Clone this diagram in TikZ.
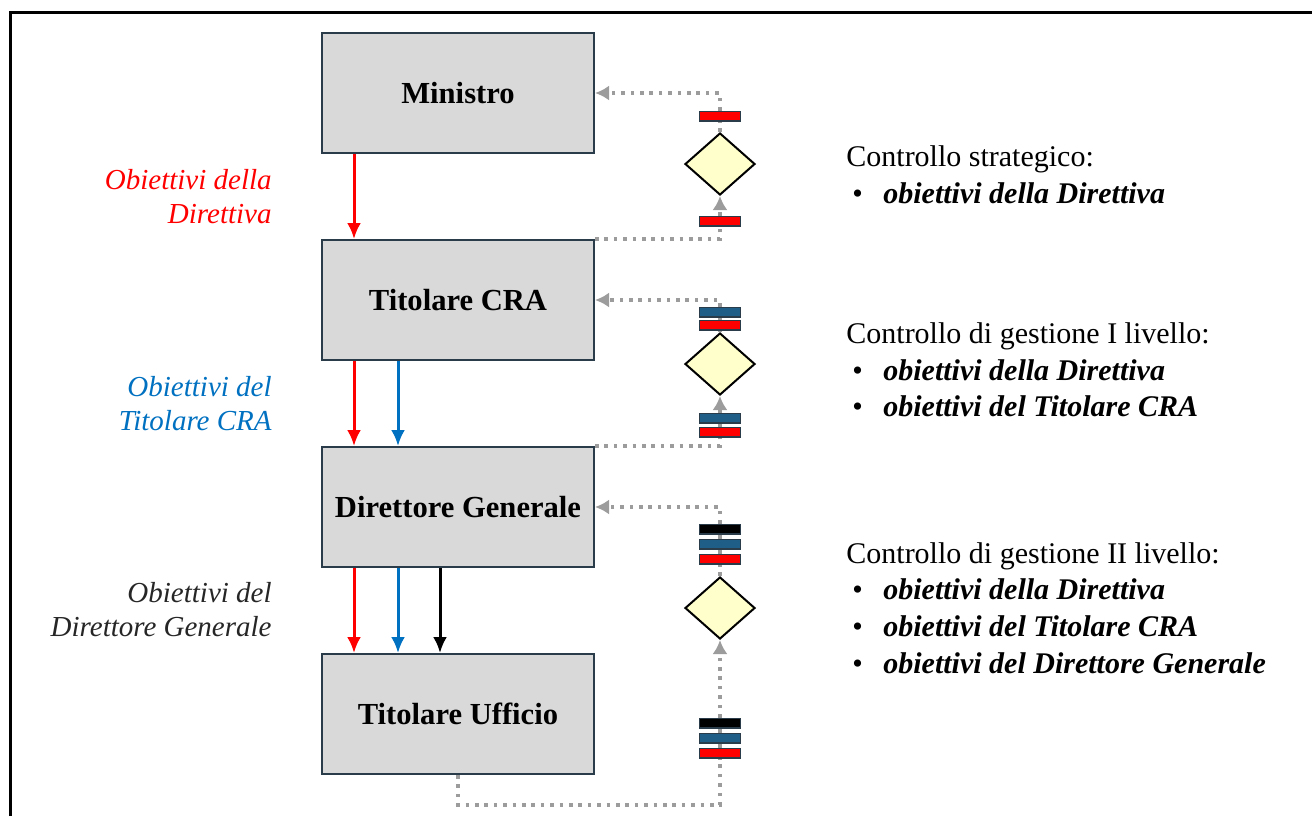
\documentclass[tikz,border=0pt]{standalone}
\usepackage{fontspec}
\setmainfont{Liberation Serif}
\usepackage{tikz}
\usetikzlibrary{arrows,arrows.meta}
\usetikzlibrary{shapes.geometric}
\usepackage{xcolor}
\tikzset{>={Latex[length=8pt,width=7pt]}}
\definecolor{boxgray}{HTML}{D9D9D9}
\definecolor{boxedge}{HTML}{2A3C4A}
\definecolor{objblue}{HTML}{0070C0}
\definecolor{barblue}{HTML}{1F5F87}
\definecolor{dotgray}{HTML}{9C9C9C}
\definecolor{rombo}{HTML}{FFFFCC}
\newcommand{\punto}[1]{\makebox[18.5pt][l]{\hspace{3pt}\textbullet}\textbf{\textit{#1}}}

\begin{document}
\begin{tikzpicture}[x=0.5pt, y=-0.5pt]
                \tikzstyle{every node}=[node distance=103.5pt]
                \tikzstyle{ruolo}=[rectangle, draw=boxedge, line width=1pt, fill=boxgray,
                        minimum width=136pt, minimum height=60pt,
                        font=\fontsize{15.3}{18}\selectfont\bfseries]
                \tikzstyle{controllo}=[diamond, draw=black, line width=1pt, fill=rombo,
                        minimum width=35pt, minimum height=31pt, inner sep=0pt]
                \tikzstyle{barra}=[rectangle, draw=boxedge, line width=0.9pt,
                        minimum width=20.5pt, minimum height=4.6pt, inner sep=0pt]
                \tikzstyle{ritorno}=[draw=dotgray, line width=1.8pt, dash pattern=on 1.8pt off 2.9pt,
                        >={Latex[length=7pt,width=7.5pt]}]
                \tikzstyle{discesa}=[->, line width=1.5pt]
                \tikzstyle{etichetta}=[anchor=east, align=right, inner sep=0pt,
                        font=\fontsize{14.5}{17}\selectfont\itshape]
                \tikzstyle{testo}=[anchor=west, align=left, inner sep=0pt,
                        font=\fontsize{15}{18.3}\selectfont]

                \useasboundingbox (0,0) rectangle (1312,816);
                \draw[line width=1.5pt] (10,816) -- (10,12) -- (1312,12);

                % catena dei ruoli
                \node[ruolo] (mi) at (458,93) {Ministro};
                \node[ruolo] (cra) [below of = mi] {Titolare CRA};
                \node[ruolo] (dg) [below of = cra] {Direttore Generale};
                \node[ruolo] (uf) [below of = dg] {Titolare Ufficio};

                \draw[discesa, red] ([xshift=16.5pt]mi.south west) -- ([xshift=16.5pt]cra.north west);
                \draw[discesa, red] ([xshift=16.5pt]cra.south west) -- ([xshift=16.5pt]dg.north west);
                \draw[discesa, objblue] ([xshift=38.5pt]cra.south west) -- ([xshift=38.5pt]dg.north west);
                \draw[discesa, red] ([xshift=16.5pt]dg.south west) -- ([xshift=16.5pt]uf.north west);
                \draw[discesa, objblue] ([xshift=38.5pt]dg.south west) -- ([xshift=38.5pt]uf.north west);
                \draw[discesa, black] ([xshift=59.5pt]dg.south west) -- ([xshift=59.5pt]uf.north west);

                \node[etichetta, text=red] (l1) at (272,197) {Obiettivi della\\Direttiva};
                \node[etichetta, text=objblue] (l2) at (272,404) {Obiettivi del\\Titolare CRA};
                \node[etichetta, text=black!85] (l3) at (272,610) {Obiettivi del\\Direttore Generale};

                % controllo strategico
                \node[controllo] (d1) at (720,164) {};
                \node[barra, fill=red] (r1a) at (720,116) {};
                \node[barra, fill=red] (r1b) at (720,221) {};
                \draw[ritorno] (cra.north east) -| (r1b);
                \draw[ritorno, ->] (r1b) -- (d1);
                \draw[ritorno] (d1) -- (r1a);
                \draw[ritorno, ->] (r1a) |- (mi.east);

                % controllo di gestione I livello
                \node[controllo] (d2) at (720,364) {};
                \node[barra, fill=barblue] (b2a) at (720,312) {};
                \node[barra, fill=red] (r2a) at (720,325) {};
                \node[barra, fill=barblue] (b2b) at (720,418) {};
                \node[barra, fill=red] (r2b) at (720,432) {};
                \draw[ritorno] (dg.north east) -| (r2b);
                \draw[ritorno] (r2b) -- (b2b);
                \draw[ritorno, ->] (b2b) -- (d2);
                \draw[ritorno] (d2) -- (r2a);
                \draw[ritorno] (r2a) -- (b2a);
                \draw[ritorno, ->] (b2a) |- (cra.east);

                % controllo di gestione II livello
                \node[controllo] (d3) at (720,608) {};
                \node[barra, fill=black] (k3a) at (720,529) {};
                \node[barra, fill=barblue] (b3a) at (720,544) {};
                \node[barra, fill=red] (r3a) at (720,559) {};
                \node[barra, fill=black] (k3b) at (720,723) {};
                \node[barra, fill=barblue] (b3b) at (720,738) {};
                \node[barra, fill=red] (r3b) at (720,753) {};
                \coordinate (c3) at (720,805);
                \draw[ritorno] (uf.south) |- (c3) -- (r3b);
                \draw[ritorno] (r3b) -- (b3b);
                \draw[ritorno] (b3b) -- (k3b);
                \draw[ritorno, ->] (k3b) -- (d3);
                \draw[ritorno] (d3) -- (r3a);
                \draw[ritorno] (r3a) -- (b3a);
                \draw[ritorno] (b3a) -- (k3a);
                \draw[ritorno, ->] (k3a) |- (dg.east);

                \node[testo] (t1) at (846,175) {Controllo strategico:\\
                        \punto{obiettivi della Direttiva}};
                \node[testo] (t2) at (846,370) {Controllo di gestione I livello:\\
                        \punto{obiettivi della Direttiva}\\
                        \punto{obiettivi del Titolare CRA}};
                \node[testo] (t3) at (846,608) {Controllo di gestione II livello:\\
                        \punto{obiettivi della Direttiva}\\
                        \punto{obiettivi del Titolare CRA}\\
                        \punto{obiettivi del Direttore Generale}};
        \end{tikzpicture}
\end{document}
